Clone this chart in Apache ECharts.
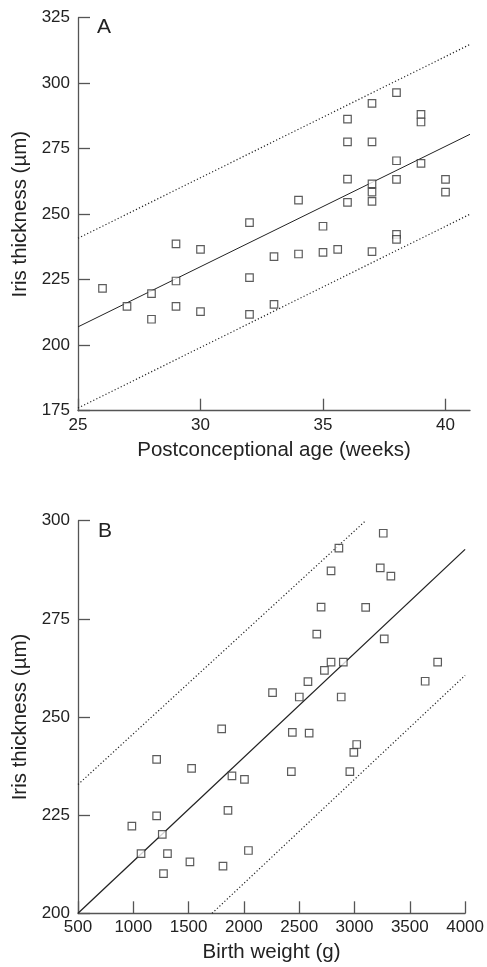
<!DOCTYPE html>
<html>
<head>
<meta charset="utf-8">
<script src="https://cdn.jsdelivr.net/npm/echarts@6/dist/echarts.min.js"></script>
<style>html,body{margin:0;padding:0;background:#fff}#c{width:487px;height:967px}</style>
</head>
<body>
<div id="c"></div>
<script>
// Panel A: postconceptional age (weeks) vs iris thickness (µm)
var ageA = [26,27,28,28,29,29,29,30,30,32,32,32,33,33,34,34,35,35,35.6,36,36,36,36,37,37,37,37,37,37,38,38,38,38,38,39,39,39,40,40];
var irisA = [221.7,214.8,219.7,209.9,238.7,224.5,214.8,236.6,212.8,246.8,225.8,211.8,233.8,215.6,255.4,234.8,245.4,235.4,236.6,286.3,277.6,263.4,254.5,292.3,277.6,261.6,258.4,254.9,235.7,296.4,270.4,263.3,242.3,240.4,288.1,285.2,269.4,263.3,258.4];
var fitA = [[25,207],[41,280.5]];
var upperA = [[25,240.8],[41,314.8]];
var lowerA = [[25,176],[41,250]];
var xTicksA = [25,30,35,40];
var yTicksA = [175,200,225,250,275,300,325];

// Panel B: birth weight (g) vs iris thickness (µm)
var weightB = [3260,2859,2788,3233,3329,2698,3101,2659,3269,2788,2899,2728,3752,2579,3639,2259,2501,2880,1799,2438,2590,3020,2994,1211,1527,2429,2958,1892,2005,1856,1211,987,1262,1070,1309,2041,1512,1811,1273];
var irisB = [296.8,293.0,287.2,288.0,285.9,278.0,277.9,271.1,269.9,264.0,264.0,261.9,264.0,259.0,259.1,256.2,255.1,255.1,247.0,246.1,245.9,243.0,241.0,239.2,236.9,236.1,236.1,235.0,234.1,226.2,224.8,222.2,220.1,215.2,215.2,216.0,213.1,212.0,210.1];
var fitB = [[500,200],[4000,292.7]];
var upperB = [[500,232.8],[3101,300]];
var lowerB = [[1712,200],[4000,260.6]];
var xTicksB = [500,1000,1500,2000,2500,3000,3500,4000];
var yTicksB = [200,225,250,275,300];

function pairs(xs, ys){ return xs.map(function(x,i){ return [x, ys[i]]; }); }

var FONT = 'Liberation Sans, Arial, Helvetica, sans-serif';
var TXT = '#222';
var AX = '#555';

function labelFmt(ticks){
  return function(v){ return ticks.indexOf(v) >= 0 ? String(v) : ''; };
}
function xAxisCfg(idx, min, max, interval, ticks, name){
  return {
    type:'value', gridIndex: idx, min:min, max:max, interval:interval,
    name:name, nameLocation:'middle', nameGap:29,
    nameTextStyle:{fontFamily:FONT, fontSize:20.5, color:TXT},
    axisLine:{show:true, onZero:false, lineStyle:{color:AX, width:1.3}},
    axisTick:{show:true, inside:true, length:12, customValues:ticks, lineStyle:{color:AX, width:1.3}},
    axisLabel:{fontFamily:FONT, fontSize:17, color:TXT, margin:6, customValues:ticks,
      formatter:labelFmt(ticks)},
    splitLine:{show:false}
  };
}
function yAxisCfg(idx, min, max, interval, ticks){
  return {
    type:'value', gridIndex: idx, min:min, max:max, interval:interval,
    name:'Iris thickness (µm)', nameLocation:'middle', nameGap:44,
    nameTextStyle:{fontFamily:FONT, fontSize:20.5, color:TXT},
    axisLine:{show:true, onZero:false, lineStyle:{color:AX, width:1.3}},
    axisTick:{show:true, inside:true, length:12, customValues:ticks, lineStyle:{color:AX, width:1.3}},
    axisLabel:{fontFamily:FONT, fontSize:17, color:TXT, margin:8, customValues:ticks,
      formatter:labelFmt(ticks)},
    splitLine:{show:false}
  };
}
function lineSeries(idx, data, type, w){
  return {type:'line', xAxisIndex:idx, yAxisIndex:idx, data:data, symbol:'none', silent:true,
    lineStyle:{color:'#222', width:w, type:type}, z:1};
}
function scatterSeries(idx, data){
  return {type:'scatter', xAxisIndex:idx, yAxisIndex:idx, data:data, symbol:'rect', symbolSize:7.5,
    itemStyle:{color:'#fff', borderColor:'#333', borderWidth:1.2}, z:3};
}

var chart = echarts.init(document.getElementById('c'), null, {renderer:'canvas'});
chart.setOption({
  animation:false,
  backgroundColor:'#fff',
  title:[
    {text:'A', left:97, top:17, padding:0, textStyle:{fontFamily:FONT, fontSize:21, fontWeight:'normal', color:TXT}},
    {text:'B', left:98, top:521, padding:0, textStyle:{fontFamily:FONT, fontSize:21, fontWeight:'normal', color:TXT}}
  ],
  grid:[
    {left:78, top:17.7, width:392, height:393},
    {left:78, top:520.7, width:390.7, height:392.6}
  ],
  xAxis:[
    xAxisCfg(0, 25, 41, 5, xTicksA, 'Postconceptional age (weeks)'),
    xAxisCfg(1, 500, 4000, 500, xTicksB, 'Birth weight (g)')
  ],
  yAxis:[
    yAxisCfg(0, 175, 325, 25, yTicksA),
    yAxisCfg(1, 200, 300, 25, yTicksB)
  ],
  series:[
    lineSeries(0, fitA, 'solid', 1),
    lineSeries(0, upperA, [1.2,2.2], 1.2),
    lineSeries(0, lowerA, [1.2,2.2], 1.2),
    scatterSeries(0, pairs(ageA, irisA)),
    lineSeries(1, fitB, 'solid', 1.3),
    lineSeries(1, upperB, [1.2,2.2], 1.2),
    lineSeries(1, lowerB, [1.2,2.2], 1.2),
    scatterSeries(1, pairs(weightB, irisB))
  ]
});
</script>
</body>
</html>
